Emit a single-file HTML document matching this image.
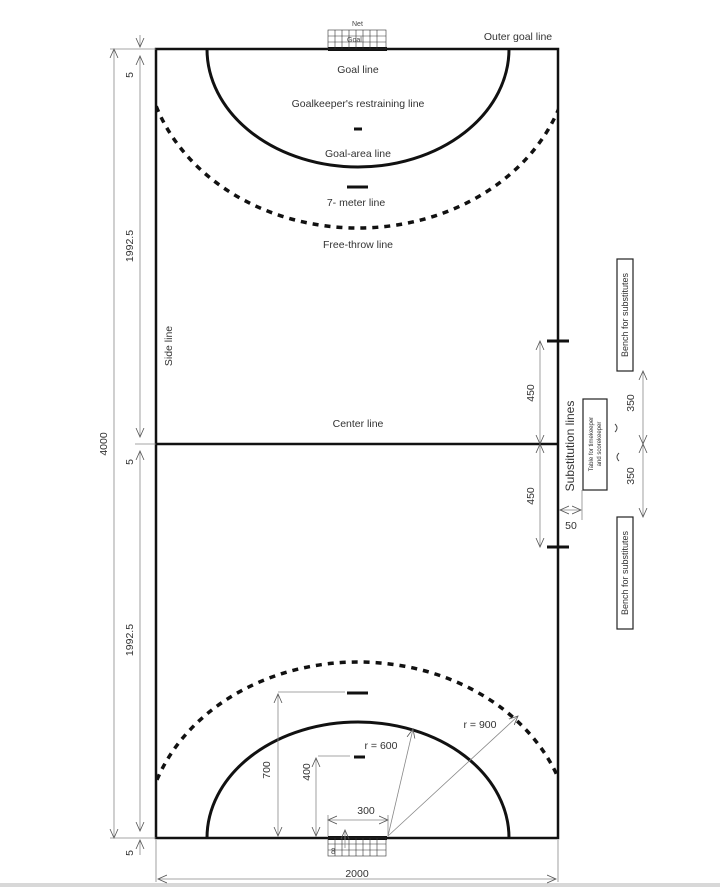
<!DOCTYPE html>
<html><head><meta charset="utf-8"><style>
html,body{margin:0;padding:0;background:#fff;width:720px;height:887px;overflow:hidden;}
svg{display:block;font-family:"Liberation Sans",Arial,sans-serif;}
</style></head><body>
<svg width="720" height="887" viewBox="0 0 720 887" xmlns="http://www.w3.org/2000/svg">
<defs>
<marker id="a" markerWidth="10" markerHeight="10" refX="9" refY="5" orient="auto-start-reverse" markerUnits="userSpaceOnUse">
<path d="M0,1 L9,5 L0,9" fill="none" stroke="#555" stroke-width="0.8"/></marker>
<clipPath id="c"><rect x="156" y="49" width="402" height="789"/></clipPath>
</defs>
<rect x="0" y="0" width="720" height="887" fill="#fff"/>
<rect x="0" y="883" width="720" height="4" fill="#d8d8d8"/>
<g fill="none" stroke="#111" stroke-width="3" clip-path="url(#c)">
<path d="M207,49 A151,118 0 0 0 509,49"/>
<path d="M207,838 A151,116 0 0 1 509,838"/>
<ellipse cx="358" cy="49" rx="213" ry="179" stroke-dasharray="6,6" stroke-width="3.5"/>
<ellipse cx="358" cy="838" rx="213" ry="176" stroke-dasharray="6,6" stroke-width="3.5"/>
</g>
<rect x="156" y="49" width="402" height="789" fill="none" stroke="#111" stroke-width="2.5"/>
<line x1="156" y1="444" x2="558" y2="444" stroke="#111" stroke-width="2.5"/>
<g stroke="#111" stroke-width="3">
<line x1="354" y1="129" x2="362" y2="129"/>
<line x1="347" y1="187" x2="368" y2="187"/>
<line x1="347" y1="693" x2="368" y2="693"/>
<line x1="354" y1="757" x2="365" y2="757"/>
<line x1="547" y1="341" x2="569" y2="341"/>
<line x1="547" y1="547" x2="569" y2="547"/>
<line x1="328" y1="49" x2="387" y2="49" stroke-width="4"/>
<line x1="328" y1="838" x2="387" y2="838" stroke-width="4"/>
</g>
<g stroke="#333" stroke-width="0.6" fill="none">
<rect x="328" y="30" width="58" height="19"/>
<path d="M328,36H386M328,42H386M335,30V49M342,30V49M349,30V49M356,30V49M363,30V49M370,30V49M377,30V49"/>
<rect x="328" y="838" width="58" height="18"/>
<path d="M328,844H386M328,850H386M335,838V856M342,838V856M349,838V856M356,838V856M363,838V856M370,838V856M377,838V856"/>
</g>
<g fill="#444" font-size="7"><text x="352" y="26">Net</text><text x="347" y="42">Goal</text></g>
<g fill="#333" font-size="10.5" text-anchor="middle">
<text x="358" y="73">Goal line</text>
<text x="358" y="107">Goalkeeper's restraining line</text>
<text x="358" y="157">Goal-area line</text>
<text x="356" y="206">7- meter line</text>
<text x="358" y="248">Free-throw line</text>
<text x="358" y="427">Center line</text>
<text x="518" y="40">Outer goal line</text>
<text x="366" y="814">300</text>
<text x="381" y="749">r = 600</text>
<text x="480" y="728">r = 900</text>
<text x="357" y="877">2000</text>
</g>
<g fill="#333" font-size="10.5" text-anchor="middle">
<text transform="translate(133,75) rotate(-90)">5</text>
<text transform="translate(133,246) rotate(-90)">1992.5</text>
<text transform="translate(133,462) rotate(-90)">5</text>
<text transform="translate(133,640) rotate(-90)">1992.5</text>
<text transform="translate(133,853) rotate(-90)">5</text>
<text transform="translate(107,444) rotate(-90)">4000</text>
<text transform="translate(172,346) rotate(-90)">Side line</text>
<text transform="translate(534,393) rotate(-90)">450</text>
<text transform="translate(534,496) rotate(-90)">450</text>
<text transform="translate(574,446) rotate(-90)" font-size="12">Substitution lines</text>
<text transform="translate(634,403) rotate(-90)">350</text>
<text transform="translate(634,476) rotate(-90)">350</text>
<text transform="translate(270,770) rotate(-90)">700</text>
<text transform="translate(310,772) rotate(-90)">400</text>
<text x="571" y="529">50</text>
</g>
<g fill="none" stroke="#222" stroke-width="1.2">
<rect x="617" y="259" width="16" height="112"/>
<rect x="617" y="517" width="16" height="112"/>
<rect x="583" y="399" width="24" height="91"/>
</g>
<g fill="#333" font-size="9" text-anchor="middle">
<text transform="translate(628,315) rotate(-90)">Bench for substitutes</text>
<text transform="translate(628,573) rotate(-90)">Bench for substitutes</text>
<text transform="translate(593,444) rotate(-90)" font-size="6">Table for timekeeper</text>
<text transform="translate(601,444) rotate(-90)" font-size="6">and scorekeeper</text>
</g>
<g fill="none" stroke="#444" stroke-width="1"><path d="M615,424 q4,4 0,8"/><path d="M619,461 q-4,-4 0,-8"/></g>
<g stroke="#888" stroke-width="0.8" fill="none">
<line x1="114" y1="49" x2="114" y2="838" marker-start="url(#a)" marker-end="url(#a)"/>
<line x1="140" y1="56" x2="140" y2="437" marker-start="url(#a)" marker-end="url(#a)"/>
<line x1="140" y1="451" x2="140" y2="831" marker-start="url(#a)" marker-end="url(#a)"/>
<line x1="140" y1="35" x2="140" y2="47" marker-end="url(#a)"/>
<line x1="140" y1="855" x2="140" y2="840" marker-end="url(#a)"/>
<line x1="110" y1="49" x2="156" y2="49"/><line x1="110" y1="838" x2="156" y2="838"/>
<line x1="135" y1="444" x2="156" y2="444"/>
<line x1="156" y1="840" x2="156" y2="882"/><line x1="558" y1="840" x2="558" y2="882"/>
<line x1="158" y1="879" x2="556" y2="879" marker-start="url(#a)" marker-end="url(#a)"/>
<line x1="540" y1="341" x2="540" y2="444" marker-start="url(#a)" marker-end="url(#a)"/>
<line x1="540" y1="444" x2="540" y2="547" marker-start="url(#a)" marker-end="url(#a)"/>
<line x1="643" y1="371" x2="643" y2="444" marker-start="url(#a)" marker-end="url(#a)"/>
<line x1="643" y1="444" x2="643" y2="517" marker-start="url(#a)" marker-end="url(#a)"/>
<line x1="560" y1="510" x2="581" y2="510" marker-start="url(#a)" marker-end="url(#a)"/>
<line x1="582" y1="490" x2="582" y2="520"/>
<line x1="278" y1="692" x2="345" y2="692"/>
<line x1="278" y1="694" x2="278" y2="836" marker-start="url(#a)" marker-end="url(#a)"/>
<line x1="318" y1="756" x2="350" y2="756"/>
<line x1="316" y1="758" x2="316" y2="836" marker-start="url(#a)" marker-end="url(#a)"/>
<line x1="328" y1="820" x2="388" y2="820" marker-start="url(#a)" marker-end="url(#a)"/>
<line x1="328" y1="815" x2="328" y2="836"/><line x1="388" y1="815" x2="388" y2="836"/>
<line x1="388" y1="836" x2="413" y2="729" marker-end="url(#a)"/>
<line x1="388" y1="836" x2="518" y2="716" marker-end="url(#a)"/>
<line x1="345" y1="830" x2="345" y2="848" marker-start="url(#a)"/>
</g>
<text x="331" y="854" font-size="8" fill="#444">8</text>
</svg>
</body></html>
